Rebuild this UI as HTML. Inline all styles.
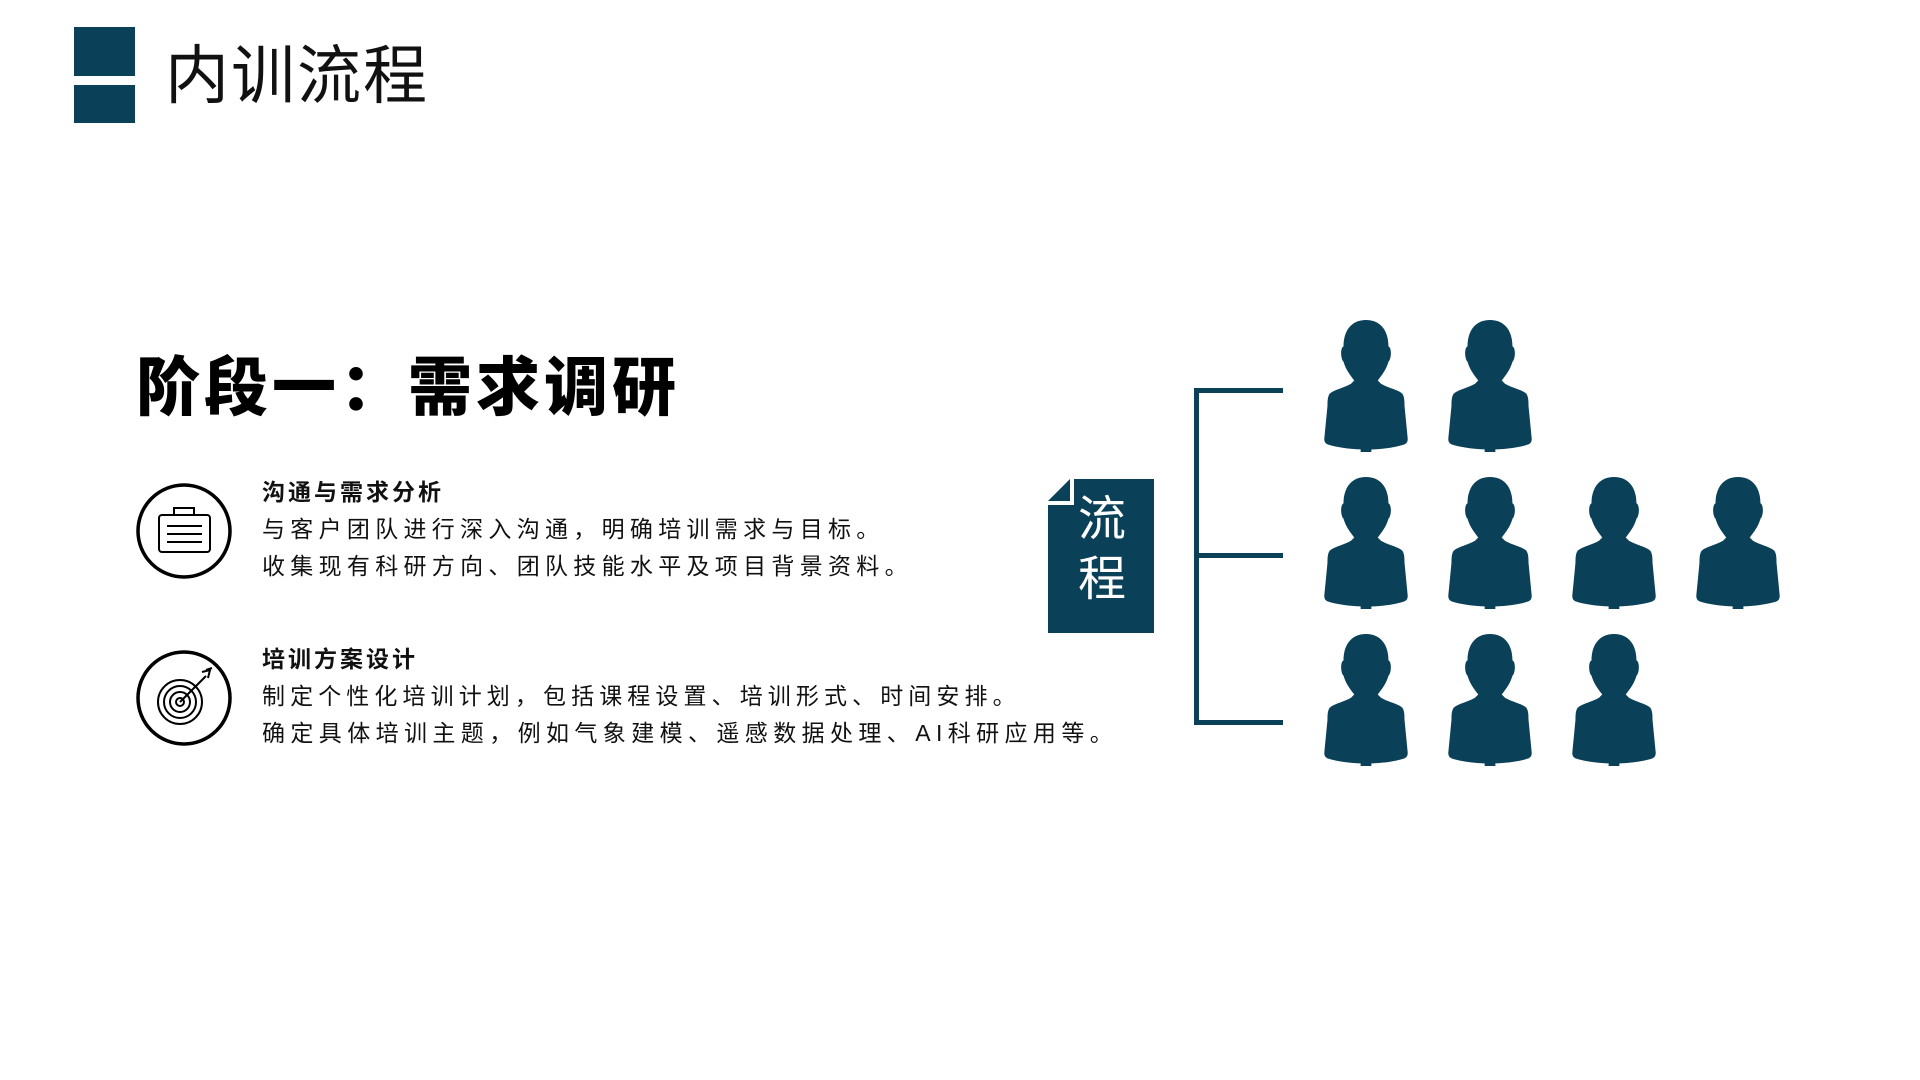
<!DOCTYPE html>
<html><head><meta charset="utf-8"><style>
html,body{margin:0;padding:0;background:#fff;}
body{width:1920px;height:1080px;position:relative;overflow:hidden;font-family:"Liberation Sans","Noto Sans CJK SC",sans-serif;color:#111;}
.a{position:absolute;}
.t{white-space:nowrap;}
.p{position:absolute;width:92px;height:132px;}
</style></head><body>
<div class="a" style="left:74px;top:27px;width:61px;height:49px;background:#0b4059"></div>
<div class="a" style="left:74px;top:85px;width:61px;height:38px;background:#0b4059"></div>
<div class="a t" style="left:165px;top:38px;font-size:64px;line-height:76px;letter-spacing:2px;color:#111">内训流程</div>
<div class="a t" style="left:136px;top:350px;font-size:64px;line-height:76px;font-weight:900;letter-spacing:4px;color:#000">阶段一：需求调研</div>

<svg class="a" style="left:134px;top:481px" width="100" height="100" viewBox="0 0 100 100">
<circle cx="50" cy="50" r="46" fill="none" stroke="#000" stroke-width="3.5"/>
<rect x="25" y="34" width="51" height="37" rx="3" fill="none" stroke="#000" stroke-width="2"/>
<rect x="40" y="27" width="20" height="7" fill="none" stroke="#000" stroke-width="2"/>
<line x1="33" y1="45" x2="68" y2="45" stroke="#000" stroke-width="2"/>
<line x1="33" y1="53" x2="68" y2="53" stroke="#000" stroke-width="2"/>
<line x1="33" y1="61" x2="68" y2="61" stroke="#000" stroke-width="2"/>
</svg>
<svg class="a" style="left:134px;top:648px" width="100" height="100" viewBox="0 0 100 100">
<circle cx="50" cy="50" r="46" fill="none" stroke="#000" stroke-width="3.5"/>
<circle cx="46" cy="54" r="22" fill="none" stroke="#000" stroke-width="2"/>
<circle cx="46" cy="54" r="16" fill="none" stroke="#000" stroke-width="2"/>
<circle cx="46" cy="54" r="10" fill="none" stroke="#000" stroke-width="2"/>
<circle cx="46" cy="54" r="4" fill="none" stroke="#000" stroke-width="2"/>
<line x1="46" y1="54" x2="72" y2="28" stroke="#000" stroke-width="2"/>
<path d="M68 24 L76 22 L74 30 M72 22 L78 20" fill="none" stroke="#000" stroke-width="2"/>
</svg>

<div class="a t" style="left:262px;top:477px;font-size:23px;line-height:30px;font-weight:700;letter-spacing:3px">沟通与需求分析</div>
<div class="a t" style="left:262px;top:514px;font-size:23px;line-height:30px;letter-spacing:5.3px">与客户团队进行深入沟通，明确培训需求与目标。</div>
<div class="a t" style="left:262px;top:551px;font-size:23px;line-height:30px;letter-spacing:5.3px">收集现有科研方向、团队技能水平及项目背景资料。</div>
<div class="a t" style="left:262px;top:644px;font-size:23px;line-height:30px;font-weight:700;letter-spacing:3px">培训方案设计</div>
<div class="a t" style="left:262px;top:681px;font-size:23px;line-height:30px;letter-spacing:5.1px">制定个性化培训计划，包括课程设置、培训形式、时间安排。</div>
<div class="a t" style="left:262px;top:718px;font-size:23px;line-height:30px;letter-spacing:5.4px">确定具体培训主题，例如气象建模、遥感数据处理、AI科研应用等。</div>

<svg class="a" style="left:1048px;top:479px" width="106" height="154" viewBox="0 0 106 154">
<path d="M26 0 H106 V154 H0 V26 H26 Z" fill="#0b4059"/>
<path d="M0 22 L22 0 V22 Z" fill="#0b4059"/>
</svg>
<div class="a t" style="left:1078px;top:490px;font-size:48px;line-height:60px;color:#fff;width:50px">流<br>程</div>

<div class="a" style="left:1194px;top:388px;width:5px;height:337px;background:#0b4059"></div>
<div class="a" style="left:1194px;top:388px;width:89px;height:5px;background:#0b4059"></div>
<div class="a" style="left:1194px;top:553px;width:89px;height:5px;background:#0b4059"></div>
<div class="a" style="left:1194px;top:720px;width:89px;height:5px;background:#0b4059"></div>

<svg width="0" height="0" style="position:absolute"><defs>
<symbol id="pp" viewBox="0 0 86 120" preserveAspectRatio="none">
<path fill="#0b4059" d="M43 0 C30 0 22 9 22 24 C19 25 19 35 22 38 C24 45 28 50 32 55 L29 58 C22 62 14 63 9 67 C7 70 7 74 7 78 L4 108 C4 112 6 113 10 114 C30 119 56 119 76 114 C80 113 82 112 82 108 L79 78 C79 74 79 70 77 67 C72 63 64 62 57 58 L54 55 C58 50 62 45 64 38 C67 35 67 25 64 24 C64 9 56 0 43 0Z"/>
<rect x="38" y="112" width="10" height="8" fill="#0b4059"/>
</symbol></defs></svg>

<svg class="p" style="left:1320px;top:320px"><use href="#pp" width="92" height="132"/></svg>
<svg class="p" style="left:1444px;top:320px"><use href="#pp" width="92" height="132"/></svg>
<svg class="p" style="left:1320px;top:477px"><use href="#pp" width="92" height="132"/></svg>
<svg class="p" style="left:1444px;top:477px"><use href="#pp" width="92" height="132"/></svg>
<svg class="p" style="left:1568px;top:477px"><use href="#pp" width="92" height="132"/></svg>
<svg class="p" style="left:1692px;top:477px"><use href="#pp" width="92" height="132"/></svg>
<svg class="p" style="left:1320px;top:634px"><use href="#pp" width="92" height="132"/></svg>
<svg class="p" style="left:1444px;top:634px"><use href="#pp" width="92" height="132"/></svg>
<svg class="p" style="left:1568px;top:634px"><use href="#pp" width="92" height="132"/></svg>
</body></html>
